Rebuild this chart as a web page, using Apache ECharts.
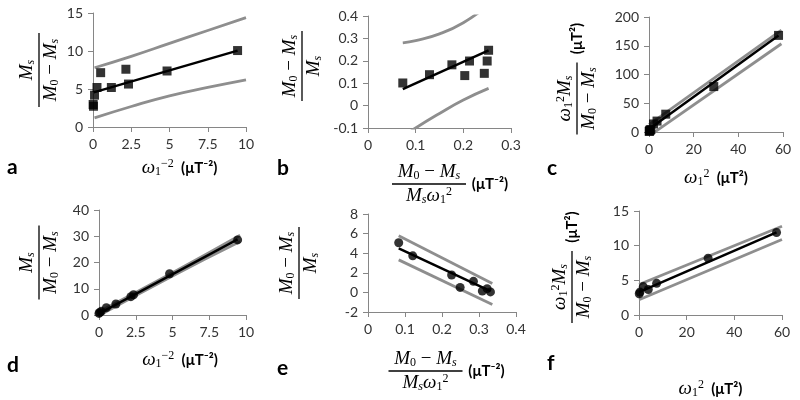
<!DOCTYPE html>
<html><head><meta charset="utf-8">
<script src="https://cdn.jsdelivr.net/npm/echarts@6/dist/echarts.min.js"></script>
<style>html,body{margin:0;padding:0;background:#fff}#c{width:800px;height:400px}</style>
</head><body><div id="c"></div>
<script>
// ---------- panel a ----------
const aXTicks = [0, 2.5, 5, 7.5, 10];
const aYTicks = [0, 5, 10, 15];
const aPoints = [[0.01,2.96],[0.03,2.73],[0.1,4.19],[0.26,5.2],[0.5,7.15],[1.2,5.2],[2.15,7.6],[2.32,5.65],[4.84,7.37],[9.45,10.06]];
const aFit = [[0.05,4.55],[9.45,10.05]];
const aUpper = [[0.1,7.8],[2.5,9.3],[5,11.0],[7.5,12.7],[10,14.4]];
const aLower = [[0.1,1.2],[2.5,2.7],[5,4.1],[7.5,5.2],[10,6.2]];
// ---------- panel b ----------
const bXTicks = [0, 0.1, 0.2, 0.3];
const bYTicks = [-0.1, 0, 0.1, 0.2, 0.3, 0.4];
const bPoints = [[0.073,0.101],[0.129,0.138],[0.176,0.182],[0.203,0.134],[0.213,0.199],[0.244,0.144],[0.250,0.199],[0.253,0.247]];
const bFit = [[0.073,0.074],[0.253,0.247]];
const bUpper = [[0.073,0.28],[0.1,0.29],[0.15,0.32],[0.2,0.37],[0.253,0.45]];
const bLower = [[0.073,-0.14],[0.1,-0.1],[0.15,-0.035],[0.2,0.025],[0.253,0.077]];
// ---------- panel c ----------
const cXTicks = [0, 20, 40, 60];
const cYTicks = [0, 50, 100, 150, 200];
const cPoints = [[0.1,1.1],[0.2,1.5],[0.43,2.4],[0.47,3.5],[0.83,4.3],[2,14],[3.6,19],[7.5,31],[29,79],[58,168]];
const cFit = [[0.1,5.3],[58,168]];
const cUpper = [[0,13],[59.3,177]];
const cLower = [[0,-7],[59.3,153.5]];
// ---------- panel d ----------
const dXTicks = [0, 2.5, 5, 7.5, 10];
const dYTicks = [0, 10, 20, 30, 40];
const dPoints = [[0,0.6],[0.05,1.0],[0.15,1.4],[0.5,2.8],[1.15,4.2],[2.17,7.0],[2.35,7.7],[4.8,15.7],[9.43,28.6]];
const dFit = [[0,0.5],[9.43,28.8]];
const dUpper = [[0,1.2],[5,16.1],[9.6,30.4]];
const dLower = [[0,-0.2],[5,14.9],[9.6,28.0]];
// ---------- panel e ----------
const eXTicks = [0, 0.1, 0.2, 0.3, 0.4];
const eYTicks = [-2, 0, 2, 4, 6, 8];
const ePoints = [[0.083,5.07],[0.121,3.73],[0.226,1.78],[0.249,0.51],[0.285,1.13],[0.309,0.14],[0.322,0.38],[0.331,0.05]];
const eFit = [[0.083,4.49],[0.331,0.14]];
const eUpper = [[0.083,5.79],[0.336,0.92]];
const eLower = [[0.083,3.32],[0.336,-1.23]];
// ---------- panel f ----------
const fXTicks = [0, 20, 40, 60];
const fYTicks = [0, 5, 10, 15];
const fPoints = [[0.1,3.07],[0.4,3.3],[1.8,4.1],[3.9,3.68],[7.4,4.57],[29,8.2],[57.7,11.9]];
const fFit = [[0,3.3],[57.7,11.93]];
const fUpper = [[0,4.4],[60,12.8]];
const fLower = [[0,2.2],[60,10.9]];

const panelLetters = ['a','b','c','d','e','f'];

// ---------- text pieces (rich) ----------
const Ms = '{m|M}{sb|s}';
const M0mMs = '{m|M}{sbu|0}{r| − }{m|M}{sb|s}';
const w1sq = '{m|ω}{sbu|1}{spu|2}';
const w1m2 = '{m|ω}{sbu|1}{spu|−2}';
const unitNeg = '(μT⁻²)';
const unitPos = '(μT²)';

const rich = {
  m:   {fontFamily:'Liberation Serif', fontStyle:'italic', fontSize:19, lineHeight:20, color:'#000', align:'center'},
  r:   {fontFamily:'Liberation Serif', fontSize:19, lineHeight:20, color:'#000', align:'center'},
  sb:  {fontFamily:'Liberation Serif', fontStyle:'italic', fontSize:12, lineHeight:9, verticalAlign:'bottom', color:'#000', align:'center'},
  sbu: {fontFamily:'Liberation Serif', fontSize:12, lineHeight:9, verticalAlign:'bottom', color:'#000', align:'center'},
  spu: {fontFamily:'Liberation Serif', fontSize:12, lineHeight:9, verticalAlign:'top', color:'#000', align:'center'},
  u:   {fontFamily:'Lato', fontWeight:'bold', fontSize:15, lineHeight:18, color:'#000', align:'center'},
  ub:  {fontFamily:'Lato', fontWeight:'bold', fontSize:15, lineHeight:4, width:48, color:'#000', align:'center'},
  sp:  {width:48, lineHeight:4, fontSize:4, align:'center'},
  bar74: {width:74, height:1.3, backgroundColor:'#000', lineHeight:4, fontSize:2, align:'center'},
  bar70: {width:70, height:1.3, backgroundColor:'#000', lineHeight:4, fontSize:2, align:'center'},
  bar72: {width:72, height:1.3, backgroundColor:'#000', lineHeight:4, fontSize:2, align:'center'}
};

const xNames = [
  w1m2 + '{u|  ' + unitNeg + '}',
  M0mMs + '{sp| }\n{bar74| }{ub|' + unitNeg + '}\n' + Ms + w1sq + '{sp| }',
  w1sq + '{u|  ' + unitPos + '}',
  w1m2 + '{u|  ' + unitNeg + '}',
  M0mMs + '{sp| }\n{bar74| }{ub|' + unitNeg + '}\n' + Ms + w1sq + '{sp| }',
  w1sq + '{u|  ' + unitPos + '}'
];
const yNames = [
  Ms + '\n{bar74| }\n' + M0mMs,
  M0mMs + '\n{bar70| }\n' + Ms,
  w1sq + Ms + '{sp| }\n{bar72| }{ub|' + unitPos + '}\n' + M0mMs + '{sp| }',
  Ms + '\n{bar74| }\n' + M0mMs,
  M0mMs + '\n{bar72| }\n' + Ms,
  w1sq + Ms + '{sp| }\n{bar72| }{ub|' + unitPos + '}\n' + M0mMs + '{sp| }'
];

const grids = [
  {left:93, top:13, width:153, height:114},
  {left:368, top:16, width:143, height:112},
  {left:649, top:17, width:134, height:115},
  {left:99, top:210, width:147, height:105},
  {left:368, top:214, width:148, height:98},
  {left:639, top:211, width:143, height:106}
];
const xGap = [31, 34, 36, 35, 37, 64];
const xPad = [[0,0,0,20],[0,0,0,27],[0,0,0,0],[0,0,0,15],[0,0,0,15],[0,0,0,0]];
const yGap = [32, 44, 50, 38, 47, 45];
const yPad = [[0,0,0,0],[0,0,0,12],[0,0,0,0],[0,0,0,0],[0,0,0,0],[0,0,0,0]];
const letterPos = [[7,157],[277,158],[547,158],[7,355],[277,358],[547,353]];

const xTickSets = [aXTicks,bXTicks,cXTicks,dXTicks,eXTicks,fXTicks];
const yTickSets = [aYTicks,bYTicks,cYTicks,dYTicks,eYTicks,fYTicks];
const pointSets = [aPoints,bPoints,cPoints,dPoints,ePoints,fPoints];
const fitSets = [aFit,bFit,cFit,dFit,eFit,fFit];
const upperSets = [aUpper,bUpper,cUpper,dUpper,eUpper,fUpper];
const lowerSets = [aLower,bLower,cLower,dLower,eLower,fLower];

const axisCol = '#868686';
function axisBase(ticks) {
  return {
    type:'value', min:ticks[0], max:ticks[ticks.length-1], interval:+(ticks[1]-ticks[0]).toFixed(6),
    axisLine:{show:true, onZero:false, lineStyle:{color:axisCol, width:1}},
    axisTick:{show:true, length:5, lineStyle:{color:axisCol}},
    splitLine:{show:false},
    axisLabel:{color:'#333333', fontFamily:'Lato', fontSize:14, margin:10},
    nameLocation:'middle', nameMoveOverlap:false
  };
}

const xAxis = [], yAxis = [], series = [], title = [];
for (let i = 0; i < 6; i++) {
  xAxis.push(Object.assign(axisBase(xTickSets[i]), {
    gridIndex:i, name:xNames[i], nameGap:xGap[i],
    nameTextStyle:{rich:rich, padding:xPad[i], fontSize:14}
  }));
  yAxis.push(Object.assign(axisBase(yTickSets[i]), {
    gridIndex:i, name:yNames[i], nameGap:yGap[i], nameRotate:90,
    nameTextStyle:{rich:rich, padding:yPad[i], fontSize:14}
  }));
  const sym = i < 3 ? 'rect' : 'circle';
  series.push({type:'line', xAxisIndex:i, yAxisIndex:i, data:upperSets[i], smooth:true, showSymbol:false, symbol:'none',
    lineStyle:{color:'#8e8e8e', width:2.8}, silent:true, z:2});
  series.push({type:'line', xAxisIndex:i, yAxisIndex:i, data:lowerSets[i], smooth:true, showSymbol:false, symbol:'none',
    lineStyle:{color:'#8e8e8e', width:2.8}, silent:true, z:2});
  series.push({type:'line', xAxisIndex:i, yAxisIndex:i, data:fitSets[i], showSymbol:false, symbol:'none',
    lineStyle:{color:'#000', width:2.5}, silent:true, z:3});
  series.push({type:'scatter', xAxisIndex:i, yAxisIndex:i, data:pointSets[i], symbol:sym, symbolSize:9,
    itemStyle:{color:'#000'}, silent:true, z:4});
  title.push({text:panelLetters[i], left:letterPos[i][0], top:letterPos[i][1], padding:0,
    textStyle:{fontFamily:'Lato', fontWeight:'bold', fontSize:21, color:'#000'}});
}

const chart = echarts.init(document.getElementById('c'), null, {renderer:'canvas'});
chart.setOption({animation:false, backgroundColor:'#fff', title:title, grid:grids, xAxis:xAxis, yAxis:yAxis, series:series});
</script></body></html>
